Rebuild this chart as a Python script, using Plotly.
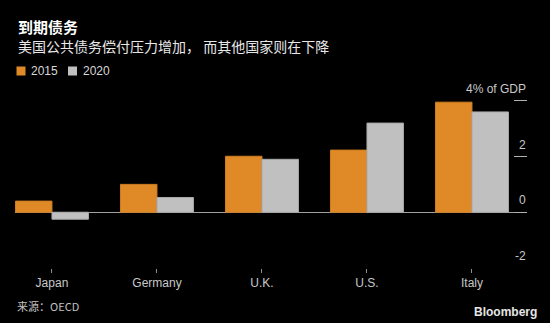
import plotly.graph_objects as go

# Debt service (% of GDP) by country
countries = ["Japan", "Germany", "U.K.", "U.S.", "Italy"]
years = ["2015", "2020"]
values_2015 = [0.40, 1.00, 2.01, 2.23, 3.95]
values_2020 = [-0.25, 0.53, 1.90, 3.20, 3.60]
y_ticks = [-2, 0, 2, 4]
y_tick_text = ["-2", "0", "2", "4% of GDP"]

ORANGE = "#E08A27"
GREY = "#C0C0C0"
CJK = "Noto Sans CJK SC"
LATIN = "Liberation Sans"

W, H = 550, 323
ML, MR, MT, MB = 15, 23, 98, 55
PW, PH = W - ML - MR, H - MT - MB


def fx(px):
    return (px - ML) / PW


def fy(py):
    return (H - MB - py) / PH


fig = go.Figure()
fig.add_trace(go.Bar(x=countries, y=values_2015, name=years[0],
                     marker=dict(color=ORANGE, line=dict(color="#CF7E20", width=1))))
fig.add_trace(go.Bar(x=countries, y=values_2020, name=years[1],
                     marker=dict(color=GREY, line=dict(color="#A8A8A8", width=1))))

annotations = [
    dict(text="<b>到期债务</b>", x=fx(16), y=fy(26.5), xanchor="left", yanchor="middle",
         font=dict(family=CJK, size=15, color="#FFFFFF")),
    dict(text="美国公共债务偿付压力增加， 而其他国家则在下降", x=fx(16), y=fy(46.5),
         xanchor="left", yanchor="middle",
         font=dict(family=CJK, size=14, color="#E8E8E8")),
    dict(text="来源：OECD", x=fx(15), y=fy(306), xanchor="left", yanchor="middle",
         font=dict(family=CJK, size=11, color="#C0C0C0")),
    dict(text="<b>Bloomberg</b>", x=fx(539), y=fy(312), xanchor="right", yanchor="middle",
         font=dict(family=LATIN, size=12, color="#E6E6E6")),
]

# legend: coloured squares with year labels
shapes = []
legend_items = [(ORANGE, years[0], 16.5), (GREY, years[1], 68)]
for color, label, x0 in legend_items:
    shapes.append(dict(type="rect", xref="paper", yref="paper",
                       x0=fx(x0), x1=fx(x0 + 9), y0=fy(75.5), y1=fy(66.5),
                       fillcolor=color, line=dict(width=0)))
    annotations.append(dict(text=label, x=fx(x0 + 12.5), y=fy(71), xanchor="left",
                            yanchor="middle",
                            font=dict(family=LATIN, size=12, color="#D8D8D8")))

# y tick labels sit above their tick marks on the right edge
for v, t in zip(y_ticks, y_tick_text):
    annotations.append(dict(text=t, xref="paper", yref="y", x=1, y=v, xanchor="right",
                            yanchor="bottom", yshift=3, xshift=1, showarrow=False,
                            font=dict(family=LATIN, size=12, color="#C8C8C8")))

for a in annotations:
    a.setdefault("xref", "paper")
    a.setdefault("yref", "paper")
    a.setdefault("showarrow", False)

fig.update_layout(
    width=W, height=H,
    margin=dict(l=ML, r=MR, t=MT, b=MB),
    paper_bgcolor="#000000", plot_bgcolor="#000000",
    barmode="group", bargap=0.305, bargroupgap=0,
    showlegend=False,
    annotations=annotations, shapes=shapes,
    xaxis=dict(range=[-0.352, 4.524], showgrid=False, showline=False, zeroline=False,
               ticks="outside", ticklen=4, tickwidth=1, tickcolor="#8C8C8C",
               tickfont=dict(family=LATIN, size=12, color="#C8C8C8"),
               fixedrange=True),
    yaxis=dict(range=[-2, 4.1], side="right", tickvals=y_ticks, showticklabels=False,
               ticks="inside", ticklen=13, tickwidth=1, tickcolor="#B0B0B0",
               showgrid=False, showline=False, zeroline=True,
               zerolinecolor="#A0A0A0", zerolinewidth=1, fixedrange=True),
)

fig.write_html("out.html")
